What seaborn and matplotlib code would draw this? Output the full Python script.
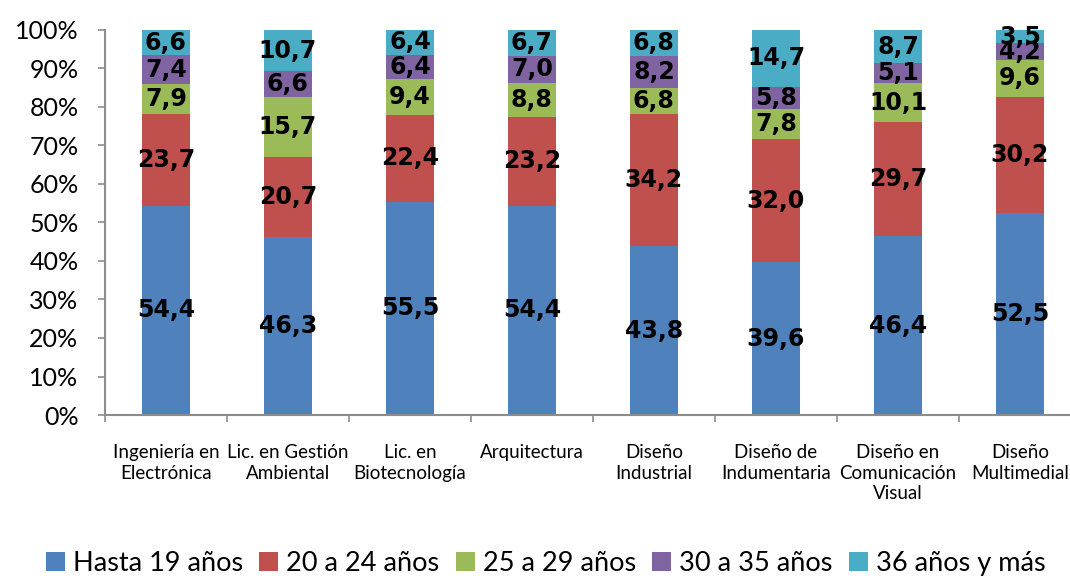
import numpy as np
import pandas as pd
import matplotlib
matplotlib.use("Agg")
import matplotlib.pyplot as plt
import seaborn as sns
from matplotlib.patches import Patch
from matplotlib.ticker import FixedLocator, PercentFormatter

# datos
carreras = [
    "Ingeniería en\nElectrónica",
    "Lic. en Gestión\nAmbiental",
    "Lic. en\nBiotecnología",
    "Arquitectura",
    "Diseño\nIndustrial",
    "Diseño de\nIndumentaria",
    "Diseño en\nComunicación\nVisual",
    "Diseño\nMultimedial",
]
grupos = ["Hasta 19 años", "20 a 24 años", "25 a 29 años", "30 a 35 años", "36 años y más"]
hasta_19 = [54.4, 46.3, 55.5, 54.4, 43.8, 39.6, 46.4, 52.5]
de_20_24 = [23.7, 20.7, 22.4, 23.2, 34.2, 32.0, 29.7, 30.2]
de_25_29 = [7.9, 15.7, 9.4, 8.8, 6.8, 7.8, 10.1, 9.6]
de_30_35 = [7.4, 6.6, 6.4, 7.0, 8.2, 5.8, 5.1, 4.2]
mas_36 = [6.6, 10.7, 6.4, 6.7, 6.8, 14.7, 8.7, 3.5]
colores = ["#4F81BD", "#C0504D", "#9BBB59", "#8064A2", "#4BACC6"]

series = [hasta_19, de_20_24, de_25_29, de_30_35, mas_36]
df = pd.DataFrame(dict(zip(grupos, series)), index=carreras)
# normalizar a 100%
pct = df.div(df.sum(axis=1), axis=0) * 100
acum = pct.cumsum(axis=1)

plt.rcParams["font.family"] = ["Lato", "DejaVu Sans"]
fig = plt.figure(figsize=(10.7, 5.76), dpi=100)
ax = fig.add_axes([0.098, 0.2795, 0.902, 0.6685])

# barras apiladas: se dibuja desde el total hacia abajo
for i in range(len(grupos) - 1, -1, -1):
    d = pd.DataFrame({"carrera": carreras, "valor": acum.iloc[:, i].values})
    sns.barplot(data=d, x="carrera", y="valor", color=colores[i], width=0.39,
                saturation=1, ax=ax, edgecolor="none", linewidth=0)

# etiquetas
for j, c in enumerate(carreras):
    base = 0
    for i, g in enumerate(grupos):
        v = df.loc[c, g]
        h = pct.loc[c, g]
        ax.text(j, base + h / 2, f"{v:.1f}".replace(".", ","), ha="center", va="center",
                fontsize=17, fontweight="bold", color="black", family="DejaVu Sans")
        base += h

ax.set_xlim(-0.5, 7.41)
ax.set_ylim(0, 100)
ax.yaxis.set_major_locator(FixedLocator(np.arange(0, 101, 10)))
ax.yaxis.set_major_formatter(PercentFormatter(decimals=0))
ax.set_xlabel("")
ax.set_ylabel("")

ax.xaxis.set_minor_locator(FixedLocator(np.arange(-0.5, 8, 1)))
ax.tick_params(axis="x", which="major", length=0, labelsize=13.5, pad=21)
ax.tick_params(axis="x", which="minor", length=5, width=1.2, color="#8C8C8C")
ax.tick_params(axis="y", length=5, width=1.2, color="#8C8C8C", labelsize=18, pad=14)
for lbl in ax.get_xticklabels():
    lbl.set_linespacing(1.25)

for s in ["top", "right"]:
    ax.spines[s].set_visible(False)
for s in ["left", "bottom"]:
    ax.spines[s].set_color("#8C8C8C")
    ax.spines[s].set_linewidth(1.5)

handles = [Patch(facecolor=colores[i], edgecolor="none", label=g) for i, g in enumerate(grupos)]
fig.legend(handles=handles, loc="center", bbox_to_anchor=(0.51, 0.022), ncol=5, frameon=False,
           fontsize=19.5, handlelength=0.7, handleheight=0.7, handletextpad=0.3, columnspacing=0.6)

fig.savefig("out.png", dpi=100)
